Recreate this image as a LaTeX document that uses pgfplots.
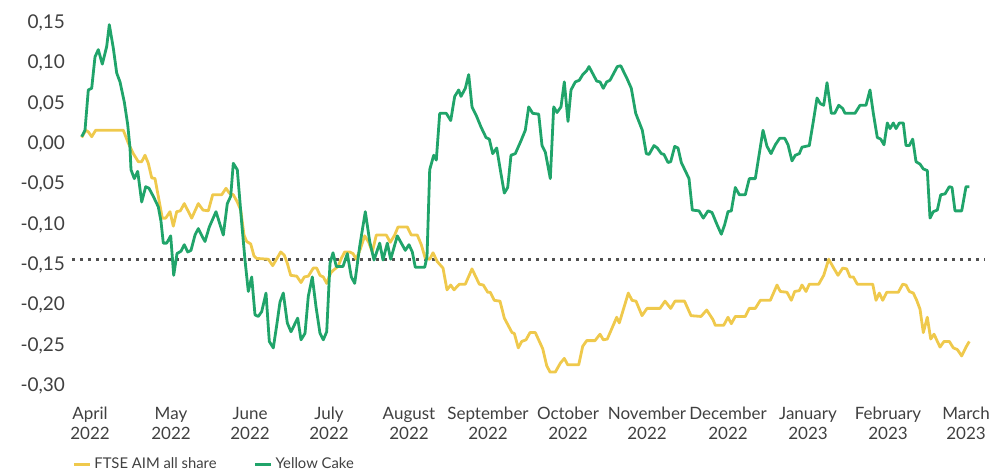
\documentclass[border=0pt]{standalone}
\usepackage{pgfplots}
\pgfplotsset{compat=1.18}
\usepackage{fontspec}
\setmainfont{Lato}
\definecolor{cgreen}{HTML}{20A46A}
\definecolor{cyellow}{HTML}{EFC94C}
\definecolor{cdot}{HTML}{505050}
\definecolor{ctext}{HTML}{404040}
\begin{document}
\begin{tikzpicture}
\useasboundingbox (-36pt,-41.1pt) rectangle (458.5pt,194.9pt);
\begin{axis}[
  at={(0pt,0pt)}, anchor=south west,
  scale only axis, width=456.5pt, height=185.4pt,
  xmin=72, xmax=985, ymin=-0.305, ymax=0.155,
  axis line style={draw=none}, major tick length=0pt,
  /pgf/number format/assume math mode=true,
  scaled y ticks=false,
  ytick={-0.30,-0.25,-0.20,-0.15,-0.10,-0.05,0,0.05,0.10,0.15},
  y tick label style={/pgf/number format/fixed, /pgf/number format/fixed zerofill,
     /pgf/number format/precision=2, /pgf/number format/use comma,
     font=\fontsize{9.5}{11}\selectfont, text=ctext},
  xtick={90,171,250,329,409,488,568,647,728,808,888,966},
  xticklabels={{April\\2022},{May\\2022},{June\\2022},{July\\2022},{August\\2022},{September\\2022},{October\\2022},{November\\2022},{December\\2022},{January\\2023},{February\\2023},{March\\2023}},
  x tick label style={align=center, font=\fontsize{8.5}{10}\selectfont, text=ctext, yshift=-5pt},
  legend style={at={(axis description cs:0,0)}, anchor=west, yshift=-37.4pt, xshift=0pt,
     draw=none, fill=none, font=\fontsize{7.4}{9}\selectfont, text=ctext,
     inner sep=0pt, legend columns=2,
     /tikz/every even column/.append style={column sep=17pt},
     nodes={inner sep=1.5pt}},
  legend cell align=left,
  legend image code/.code={\draw[#1, line width=1.5pt] (0pt,0pt) -- (8pt,0pt);},
]
\addplot[forget plot, cdot, line width=1.5pt, dash pattern=on 1.5pt off 2.5pt] coordinates {(72,-0.143) (985,-0.143)};
\addplot[cyellow, line width=1.4pt, line join=round] coordinates {
(81.7,0.008) (85.7,0.017) (88.3,0.015) (91.7,0.009) (95.7,0.017) (123.3,0.017)
(128.3,0.001) (133.3,-0.012) (138.3,-0.022) (141.7,-0.022) (145,-0.014) (148.3,-0.024)
(151.7,-0.042) (155,-0.043) (158.3,-0.065) (162.3,-0.092) (165.7,-0.092) (170,-0.084)
(173.3,-0.102) (176.7,-0.084) (180.3,-0.083) (184.3,-0.074) (191.7,-0.092) (198.3,-0.074)
(203,-0.082) (208.3,-0.083) (212.7,-0.063) (221.7,-0.063) (226,-0.055) (229.3,-0.061)
(233.3,-0.063) (237.3,-0.072) (240.7,-0.082) (244,-0.113) (246.7,-0.121) (250.7,-0.124)
(254,-0.139) (256.7,-0.142) (268.3,-0.143) (272.7,-0.151) (276,-0.144) (280.7,-0.134)
(284.3,-0.138) (287.3,-0.148) (290.7,-0.163) (296.7,-0.164) (301,-0.172) (304.3,-0.165)
(308.3,-0.164) (313.3,-0.154) (316.7,-0.154) (320,-0.163) (323.3,-0.165) (326.7,-0.173)
(330.7,-0.160) (333,-0.157) (338,-0.152) (341.3,-0.142) (344.7,-0.134) (349.7,-0.134)
(353,-0.136) (356.3,-0.143) (360.7,-0.129) (364.7,-0.114) (368.7,-0.122) (372.3,-0.134)
(376.3,-0.113) (386.3,-0.113) (390.3,-0.122) (394.7,-0.113) (398,-0.103) (407.3,-0.103)
(411.3,-0.113) (417.3,-0.113) (421.3,-0.125) (425.3,-0.142) (429.7,-0.143) (433,-0.135)
(437.3,-0.146) (443,-0.154) (447,-0.181) (450.7,-0.175) (454,-0.181) (459.3,-0.174)
(465.3,-0.174) (472,-0.155) (479.3,-0.174) (483.3,-0.175) (487.7,-0.184) (490.3,-0.184)
(494.3,-0.194) (500,-0.195) (504.3,-0.216) (512,-0.234) (514.3,-0.235) (518.3,-0.253)
(521.7,-0.245) (526,-0.243) (530,-0.234) (535.3,-0.234) (542.7,-0.254) (546.7,-0.275)
(550,-0.283) (555.3,-0.283) (560.3,-0.272) (564.3,-0.266) (567.7,-0.274) (578.7,-0.274)
(582.7,-0.251) (586.7,-0.244) (595,-0.244) (600,-0.236) (603.3,-0.243) (607.3,-0.242)
(616.7,-0.215) (619.3,-0.222) (628.3,-0.185) (632,-0.194) (636,-0.195) (642,-0.213)
(647,-0.204) (660,-0.204) (665,-0.195) (670.7,-0.204) (675,-0.195) (684.5,-0.195)
(691,-0.213) (701,-0.214) (706.7,-0.206) (713,-0.218) (715.3,-0.225) (723.7,-0.225)
(728,-0.215) (731.3,-0.223) (735.3,-0.214) (745.3,-0.214) (749.3,-0.204) (755.3,-0.204)
(760.3,-0.194) (770.3,-0.194) (777,-0.175) (780.3,-0.183) (787,-0.184) (791.3,-0.194)
(794.7,-0.183) (799.3,-0.182) (802,-0.175) (806,-0.183) (809.3,-0.174) (818.7,-0.174)
(823.7,-0.163) (828.7,-0.143) (833.7,-0.154) (838,-0.163) (842.7,-0.154) (846.7,-0.155)
(850,-0.165) (853.3,-0.165) (857.3,-0.174) (872.7,-0.174) (876,-0.194) (879.3,-0.185)
(882.7,-0.194) (886.7,-0.184) (898.3,-0.184) (902.7,-0.174) (906,-0.175) (909.3,-0.183)
(913.3,-0.185) (916.7,-0.194) (920,-0.205) (923.3,-0.234) (927.3,-0.215) (930.7,-0.242)
(934,-0.236) (940,-0.252) (944,-0.245) (949.3,-0.245) (953.3,-0.253) (957.3,-0.255)
(961.7,-0.263) (966,-0.252) (969.3,-0.245)
};
\addlegendentry{FTSE AIM all share}
\addplot[cgreen, line width=1.4pt, line join=round] coordinates {
(81.7,0.009) (85,0.017) (88.3,0.067) (91.7,0.069) (95,0.108) (98.3,0.117) (102.3,0.099)
(106.7,0.121) (109.3,0.148) (113.3,0.119) (116.7,0.088) (120,0.077) (124.3,0.052)
(127.7,0.024) (130,-0.005) (131,-0.032) (134.3,-0.043) (137.7,-0.034) (141.7,-0.072)
(145.7,-0.053) (149,-0.055) (153.3,-0.065) (158.3,-0.078) (161,-0.096) (163.3,-0.123)
(166.7,-0.123) (170.7,-0.114) (173.7,-0.163) (177,-0.136) (181,-0.133) (184.3,-0.125)
(187.7,-0.134) (191,-0.132) (195,-0.113) (198.3,-0.105) (202.3,-0.115) (205,-0.121)
(209.3,-0.103) (216,-0.084) (223.3,-0.113) (227.3,-0.074) (230.7,-0.065) (233.3,-0.024)
(237.3,-0.032) (241.7,-0.098) (245,-0.144) (248.3,-0.183) (251.7,-0.165) (255,-0.212)
(258.3,-0.214) (261.7,-0.208) (266,-0.185) (269.3,-0.245) (273.3,-0.253) (276.7,-0.225)
(280,-0.196) (283.3,-0.185) (287.3,-0.222) (291,-0.233) (297.7,-0.216) (301,-0.243)
(305,-0.235) (308.3,-0.189) (312.3,-0.165) (316,-0.202) (320,-0.235) (323.3,-0.243)
(326.7,-0.233) (330,-0.148) (333,-0.135) (336.3,-0.152) (343,-0.152) (347.3,-0.136)
(351.3,-0.165) (354.7,-0.173) (359.7,-0.127) (365.3,-0.084) (369.7,-0.121) (374,-0.144)
(379.7,-0.123) (383,-0.144) (387.3,-0.123) (390.7,-0.143) (397.3,-0.114) (401.3,-0.123)
(405.3,-0.132) (409,-0.125) (412.3,-0.134) (415.3,-0.153) (424.7,-0.153) (427,-0.140)
(429.7,-0.032) (433.7,-0.014) (436.3,-0.020) (439.7,0.038) (446.3,0.038) (450.7,0.029)
(454.7,0.059) (458.7,0.067) (461,0.059) (465.3,0.069) (468.7,0.086) (472,0.046)
(476.7,0.034) (481,0.021) (486,0.008) (489.3,0.006) (492.7,-0.012) (496.7,-0.005)
(500.3,-0.032) (504.3,-0.061) (507.7,-0.054) (511,-0.014) (515.3,-0.012) (521,0.004)
(525.3,0.017) (528.7,0.046) (532.7,0.038) (538.7,0.037) (542,-0.002) (545.3,-0.010)
(550.3,-0.043) (553.7,0.046) (557,0.039) (561,0.046) (564.3,0.077) (568,0.028)
(571,0.067) (575.3,0.077) (579.3,0.079) (582.7,0.086) (586.7,0.091) (589,0.096)
(596.7,0.078) (600,0.077) (603.3,0.069) (606.7,0.077) (610,0.079) (617.3,0.096)
(620.7,0.097) (626.7,0.082) (631.3,0.069) (635.7,0.038) (642.3,0.017) (646.3,-0.012)
(649,-0.013) (654,-0.002) (657.3,-0.005) (661.3,-0.012) (664,-0.013) (668,-0.023)
(670.7,-0.022) (674.7,-0.003) (678,-0.005) (681.3,-0.023) (689,-0.043) (692.3,-0.082)
(699,-0.083) (703.3,-0.092) (708,-0.083) (712,-0.085) (717,-0.100) (721.3,-0.112)
(724.7,-0.100) (728,-0.084) (731.3,-0.083) (735.3,-0.054) (739.3,-0.063) (745.3,-0.063)
(749.3,-0.043) (755.3,-0.043) (763,0.017) (767,-0.003) (771,-0.012) (775.3,-0.001)
(779.7,0.007) (784.7,0.007) (788,-0.001) (792,-0.021) (795.3,-0.014) (799.3,-0.012)
(802,-0.004) (809.3,-0.002) (813.7,0.031) (817,0.057) (820.3,0.050) (823.7,0.048)
(827,0.076) (831.3,0.038) (834.7,0.038) (838.7,0.048) (842.7,0.044) (845,0.038)
(855,0.038) (860,0.048) (866,0.048) (870,0.067) (873.3,0.038) (877.3,0.008)
(880.7,0.006) (884,-0.001) (887.3,0.026) (890,0.019) (893.3,0.026) (896,0.019)
(899.3,0.026) (903.3,0.026) (906,-0.002) (909.3,-0.002) (912.7,0.006) (916,-0.022)
(920,-0.025) (923.3,-0.031) (927.3,-0.033) (930,-0.092) (933.3,-0.084) (937.3,-0.082)
(940.7,-0.063) (945,-0.062) (949.3,-0.053) (952,-0.054) (955,-0.083) (961.7,-0.083)
(966,-0.053) (969.3,-0.053)
};
\addlegendentry{Yellow Cake}
\end{axis}
\end{tikzpicture}
\end{document}
